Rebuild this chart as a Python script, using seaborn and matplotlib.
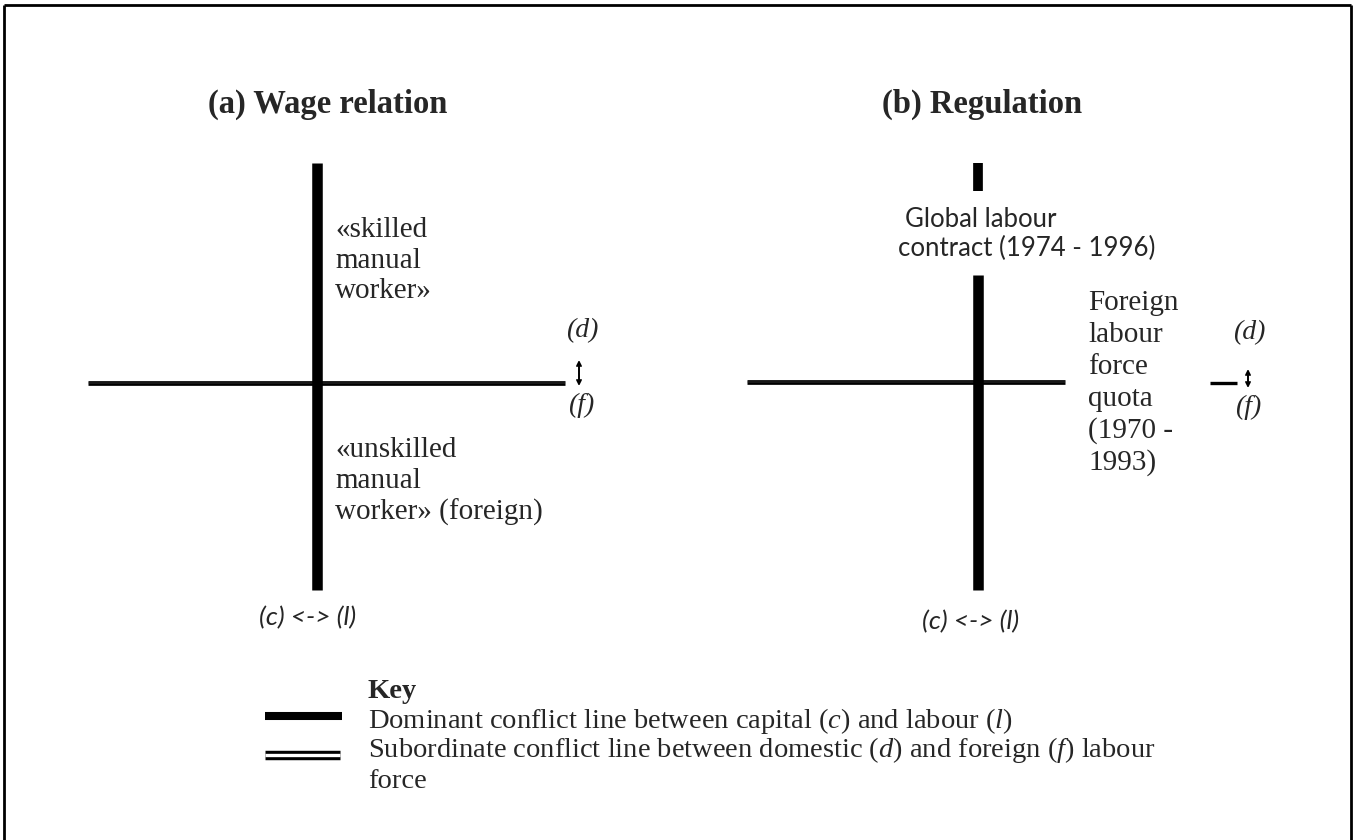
import matplotlib
matplotlib.use("Agg")
import matplotlib.pyplot as plt
import seaborn as sns

# ---------------- content ----------------
panel_titles = ["(a) Wage relation", "(b) Regulation"]
wage_upper_label = ["«skilled", "manual", "worker»"]
wage_lower_label = ["«unskilled", "manual", "worker» (foreign)"]
reg_upper_label = ["Global labour", "contract (1974 - 1996)"]
reg_right_label = ["Foreign", "labour", "force", "quota", "(1970 -", "1993)"]
vertical_axis_label = "(c) <-> (l)"
horizontal_end_labels = ["(d)", "(f)"]
key_title = "Key"
key_lines = [
    ["Dominant conflict line between capital $\\mathit{(c)}$ and labour $\\mathit{(l)}$"],
    ["Subordinate conflict line between domestic $\\mathit{(d)}$ and foreign $\\mathit{(f)}$ labour",
     "force"],
]

sns.set_theme(style="white")
plt.rcParams["mathtext.fontset"] = "custom"
plt.rcParams["mathtext.rm"] = "Liberation Serif"
plt.rcParams["mathtext.it"] = "Liberation Serif:italic"

SERIF = "Liberation Serif"
SANS = "Lato"

fig = plt.figure(figsize=(13.56, 8.4), dpi=100)
ax = fig.add_axes([0, 0, 1, 1])
ax.set_xlim(0, 1356)
ax.set_ylim(840, 0)
ax.axis("off")
fig.patch.set_facecolor("white")


def seg(x0, x1, y0, y1, lw, color="black"):
    sns.lineplot(x=[x0, x1], y=[y0, y1], estimator=None, sort=False,
                 ax=ax, color=color, linewidth=lw, solid_capstyle="butt")


def double_seg(x0, x1, y, lw_outer, lw_inner, inner_color="white"):
    seg(x0, x1, y, y, lw_outer)
    seg(x0, x1, y, y, lw_inner, inner_color)


def arrow(x, y0, y1):
    ax.annotate("", xy=(x, y0), xytext=(x, y1),
                arrowprops=dict(arrowstyle="<->", lw=1.4, color="black",
                                mutation_scale=7, shrinkA=0, shrinkB=0))


# frame
seg(4, 4, 5, 840, 2.0)
seg(4, 1351, 5, 5, 2.0)
seg(1351, 1351, 5, 840, 2.0)

# titles
ax.text(328, 113, panel_titles[0], fontsize=23.5, fontweight="bold",
        family=SERIF, ha="center", va="baseline")
ax.text(982, 113, panel_titles[1], fontsize=23.5, fontweight="bold",
        family=SERIF, ha="center", va="baseline")

# ---------- panel (a) ----------
double_seg(88, 565, 383, 3.4, 0.35, "#666666")
seg(317, 317, 163, 590, 7.6)
for i, t in enumerate(wage_upper_label):
    ax.text(335, 237 + i * 30.5, t, fontsize=21, family=SERIF, va="baseline")
for i, t in enumerate(wage_lower_label):
    ax.text(335, 457 + i * 31.5, t, fontsize=21, family=SERIF, va="baseline")
ax.text(582, 331, horizontal_end_labels[0], fontsize=20, family=SERIF,
        style="italic", ha="center", va="center")
ax.text(581, 405, horizontal_end_labels[1], fontsize=20, family=SERIF,
        style="italic", ha="center", va="center")
arrow(579, 360, 386)
ax.text(308, 618, vertical_axis_label, fontsize=19, family=SANS,
        style="italic", ha="center", va="center")

# ---------- panel (b) ----------
double_seg(747, 1065, 382, 3.4, 0.35, "#666666")
seg(978, 978, 163, 191, 7.0)
seg(978, 978, 275, 590, 7.6)
ax.text(905, 227, reg_upper_label[0], fontsize=18.5, family=SANS, va="baseline")
ax.text(898, 256, reg_upper_label[1], fontsize=18.5, family=SANS, va="baseline")
for i, t in enumerate(reg_right_label):
    ax.text(1088, 310 + i * 32, t, fontsize=21, family=SERIF, va="baseline")
seg(1210, 1237, 383, 383, 2.4)
ax.text(1249, 333, horizontal_end_labels[0], fontsize=20, family=SERIF,
        style="italic", ha="center", va="center")
ax.text(1248, 407, horizontal_end_labels[1], fontsize=20, family=SERIF,
        style="italic", ha="center", va="center")
arrow(1248, 369, 388)
ax.text(971, 622, vertical_axis_label, fontsize=19, family=SANS,
        style="italic", ha="center", va="center")

# ---------- key ----------
ax.text(368, 698, key_title, fontsize=20.5, fontweight="bold", family=SERIF,
        va="baseline")
seg(265, 342, 716, 716, 5.8)
double_seg(265, 340, 755, 6.8, 2.4)
ax.text(368, 728, key_lines[0][0], fontsize=20.5, family=SERIF, va="baseline")
ax.text(368, 757, key_lines[1][0], fontsize=20.5, family=SERIF, va="baseline")
ax.text(368, 788, key_lines[1][1], fontsize=20.5, family=SERIF, va="baseline")

fig.savefig("out.png", dpi=100, facecolor="white")
